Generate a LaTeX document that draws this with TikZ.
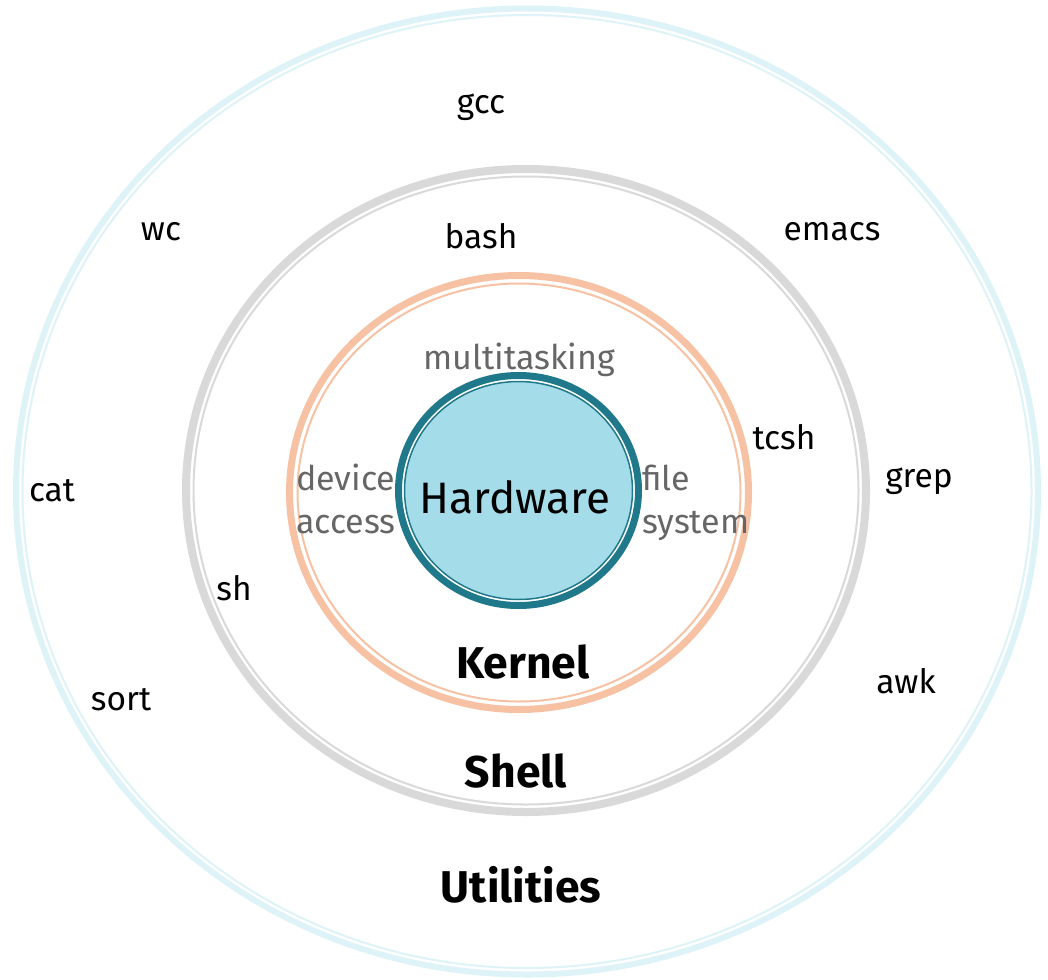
\documentclass[tikz,border=0pt]{standalone}
\usepackage{fontspec}
\setmainfont{Fira Sans}
\definecolor{utilring}{HTML}{DDF3F8}
\definecolor{shellring}{HTML}{D9D9D9}
\definecolor{kernelring}{HTML}{F7C2A3}
\definecolor{hwring}{HTML}{1F798B}
\definecolor{hwfill}{HTML}{A4DCE9}
\definecolor{soft}{HTML}{666666}
\begin{document}
\begin{tikzpicture}[x=1pt,y=-1pt,
  prog/.style={font=\fontsize{33.5}{36}\selectfont, text=black, inner sep=0pt},
  task/.style={font=\fontsize{34}{43}\selectfont, text=soft, inner sep=0pt, align=left},
  layer/.style={font=\fontsize{44.5}{46}\selectfont\bfseries, text=black, inner sep=0pt}]
\useasboundingbox[fill=white] (0,0) rectangle (1048,979);

% Utilities ring
\draw[utilring, line width=6pt] (527,491.5) ellipse [x radius=511, y radius=483];
\draw[utilring, line width=2pt] (527,491.5) ellipse [x radius=504.5, y radius=476.5];
% Shell ring
\draw[shellring, line width=8pt] (526,490.5) ellipse [x radius=340, y radius=321.5];
\draw[shellring, line width=2pt] (526,490.5) ellipse [x radius=332.5, y radius=314];
% Kernel ring
\draw[kernelring, line width=7pt] (519,492.5) ellipse [x radius=229.5, y radius=217];
\draw[kernelring, line width=2pt] (519,492.5) ellipse [x radius=221.5, y radius=209];
% Hardware core
\draw[hwring, line width=7pt] (518.5,490.5) ellipse [x radius=120, y radius=115];
\draw[hwring, line width=1.5pt, fill=hwfill] (518.5,490.5) ellipse [x radius=114, y radius=109];

\node (hw) at (515,497) {\fontsize{44}{46}\selectfont Hardware};

% kernel services
\node[task] (mt) at (519,360) {multitasking};
\node[task, anchor=west] (dev) at (296,499) {device\\access};
\node[task, anchor=west] (fs) at (642,503) {file\\system};

% shells
\node[prog] (bash) at (481,236) {bash};
\node[prog] (tcsh) at (784,437) {tcsh};
\node[prog] (sh) at (234,588) {sh};

% utilities
\node[prog] (gcc) at (481,107) {gcc};
\node[prog] (wc) at (161,232) {wc};
\node[prog] (emacs) at (832,232) {emacs};
\node[prog] (grep) at (919,481) {grep};
\node[prog] (cat) at (52,491) {cat};
\node[prog] (sort) at (121,700) {sort};
\node[prog] (awk) at (906,681) {awk};

% layer titles
\node[layer] (kernel) at (523,662) {Kernel};
\node[layer] (shell) at (516,771) {Shell};
\node[layer] (util) at (521,885) {Utilities};
\end{tikzpicture}
\end{document}
